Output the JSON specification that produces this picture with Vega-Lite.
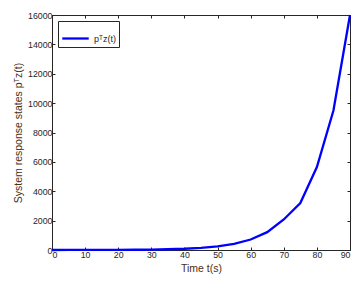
{
  "$schema": "https://vega.github.io/schema/vega-lite/v6.json",
  "autosize": "none",
  "padding": {"left": 52, "top": 15, "right": 10, "bottom": 38},
  "width": 298,
  "height": 235,
  "background": "white",
  "config": {
    "font": "Liberation Sans",
    "view": {"stroke": "#262626", "strokeWidth": 1},
    "axis": {
      "grid": false,
      "domainColor": "#262626",
      "tickColor": "#262626",
      "tickSize": -3,
      "labelColor": "#262626",
      "labelFontSize": 8.8,
      "labelFont": "Liberation Sans",
      "titleFont": "Liberation Sans",
      "titleFontSize": 10.5,
      "titleFontWeight": "normal",
      "titleColor": "#4a2e14",
      "format": "d"
    }
  },
  "data": {
    "values": [
      {"t": 0, "v": 1, "s": "pᵀz(t)"},
      {"t": 5, "v": 2, "s": "pᵀz(t)"},
      {"t": 10, "v": 4, "s": "pᵀz(t)"},
      {"t": 15, "v": 6, "s": "pᵀz(t)"},
      {"t": 20, "v": 10, "s": "pᵀz(t)"},
      {"t": 25, "v": 17, "s": "pᵀz(t)"},
      {"t": 30, "v": 28, "s": "pᵀz(t)"},
      {"t": 35, "v": 50, "s": "pᵀz(t)"},
      {"t": 40, "v": 85, "s": "pᵀz(t)"},
      {"t": 45, "v": 145, "s": "pᵀz(t)"},
      {"t": 50, "v": 245, "s": "pᵀz(t)"},
      {"t": 55, "v": 420, "s": "pᵀz(t)"},
      {"t": 60, "v": 715, "s": "pᵀz(t)"},
      {"t": 65, "v": 1215, "s": "pᵀz(t)"},
      {"t": 70, "v": 2080, "s": "pᵀz(t)"},
      {"t": 75, "v": 3195, "s": "pᵀz(t)"},
      {"t": 80, "v": 5650, "s": "pᵀz(t)"},
      {"t": 85, "v": 9500, "s": "pᵀz(t)"},
      {"t": 90, "v": 16000, "s": "pᵀz(t)"}
    ]
  },
  "resolve": {"axis": {"x": "independent", "y": "independent"}},
  "layer": [
    {
      "mark": {"type": "line", "strokeWidth": 2.3},
      "encoding": {
        "x": {"field": "t", "type": "quantitative", "scale": {"domain": [0, 90], "nice": false},
              "axis": {"orient": "bottom", "title": "Time t(s)", "format": "d", "values": [0,10,20,30,40,50,60,70,80,90], "labelPadding": 3, "titlePadding": 5}},
        "y": {"field": "v", "type": "quantitative", "scale": {"domain": [0, 16000], "nice": false},
              "axis": {"orient": "left", "title": "System response states pᵀz(t)", "format": "d", "values": [0,2000,4000,6000,8000,10000,12000,14000,16000], "labelPadding": 3, "titlePadding": 4}},
        "color": {"field": "s", "type": "nominal", "scale": {"range": ["#0000ff"]},
                  "legend": {"title": null, "orient": "top-left", "offset": 6, "symbolType": "stroke", "symbolSize": 700, "symbolStrokeWidth": 2.3,
                             "strokeColor": "#262626", "fillColor": "white", "padding": 3, "labelFontSize": 9, "labelColor": "#262626", "labelFont": "Liberation Sans"}}
      }
    },
    {
      "mark": {"type": "line", "opacity": 0},
      "encoding": {
        "x": {"field": "t", "type": "quantitative", "axis": {"orient": "top", "labels": false, "title": null, "values": [0,10,20,30,40,50,60,70,80,90]}},
        "y": {"field": "v", "type": "quantitative", "axis": {"orient": "right", "labels": false, "title": null, "values": [0,2000,4000,6000,8000,10000,12000,14000,16000]}}
      }
    }
  ]
}
